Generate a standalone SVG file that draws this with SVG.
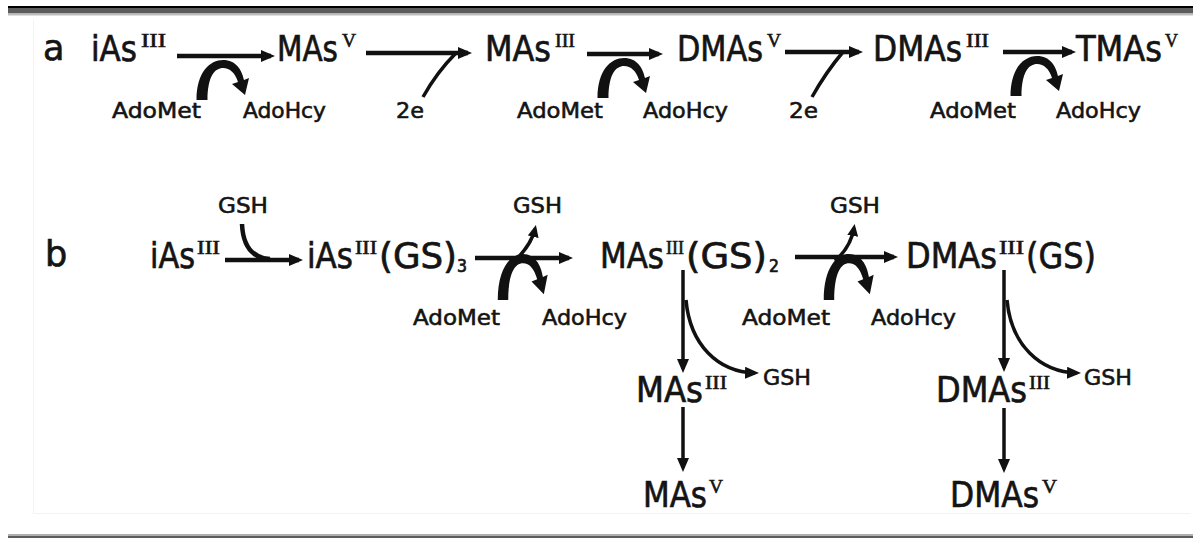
<svg xmlns="http://www.w3.org/2000/svg" xmlns:xlink="http://www.w3.org/1999/xlink" width="1193" height="538" viewBox="0 0 1193 538">
<style>
.lbl{font-family:"DejaVu Sans","Liberation Sans",sans-serif;font-size:35px;fill:#141414;stroke:#141414;stroke-width:0.7px}
.sm{font-family:"DejaVu Sans","Liberation Sans",sans-serif;font-size:22px;fill:#141414;stroke:#141414;stroke-width:0.6px}
.sup{font-family:"Liberation Serif","DejaVu Serif",serif;font-size:19px;stroke-width:0.6px}
.sub{font-size:17px}
.ln{fill:none;stroke:#111;stroke-width:4.5}
.th{fill:none;stroke:#111;stroke-width:3.5}
.cv{fill:#111}
</style>
<defs>
<marker id="ah" viewBox="0 0 14 12" refX="10" refY="6" markerWidth="14" markerHeight="12" markerUnits="userSpaceOnUse" orient="auto"><path d="M0,0 L14,6 L0,12 Z" fill="#111"/></marker>
<marker id="as" viewBox="0 0 12 11" refX="8" refY="5.5" markerWidth="12" markerHeight="11" markerUnits="userSpaceOnUse" orient="auto"><path d="M0,0 L12,5.5 L0,11 Z" fill="#111"/></marker>
<path id="meth" d="M-5.5,0 C-5.5,-28 8,-40 21,-40 C34,-40 40,-30 42,-20 L47,-22 L43,-5 L30,-16 L36,-18 C33,-27 28,-32 21,-32 C13,-32 5.5,-24 5.5,0 Z"/>
</defs>
<rect width="1193" height="538" fill="#ffffff"/>
<g id="frame">
<rect x="8" y="6" width="1185" height="2" fill="#000"/>
<rect x="8" y="8" width="1185" height="5.5" fill="#5c5c5c"/>
<rect x="8" y="13.5" width="1185" height="2" fill="#bdbdbd"/>
<rect x="8" y="534" width="1185" height="2" fill="#b0b0b0"/>
<rect x="8" y="536" width="1185" height="2" fill="#5c5c5c"/>
<path d="M33.5,20 V513.5 H1190" fill="none" stroke="#f3f3f3" stroke-width="1"/>
</g>
<g id="connectors">
<path class="ln" d="M177,56 H271" marker-end="url(#ah)"/>
<path class="ln" d="M366,53 H468" marker-end="url(#ah)"/>
<path class="ln" d="M587,54 H659" marker-end="url(#ah)"/>
<path class="ln" d="M785,52 H859" marker-end="url(#ah)"/>
<path class="ln" d="M1003,52 H1072" marker-end="url(#ah)"/>
<path class="th" d="M423,97 Q437,72 456,53"/>
<path class="th" d="M812,97 Q826,72 843,52"/>
<use xlink:href="#meth" href="#meth" class="cv" transform="translate(202,100)"/>
<use xlink:href="#meth" href="#meth" class="cv" transform="translate(603,98)"/>
<use xlink:href="#meth" href="#meth" class="cv" transform="translate(1016,96)"/>
<path class="ln" d="M225,260 H299" marker-end="url(#ah)"/>
<path class="ln" d="M242,224 C243,246 252,258 270,259"/>
<path class="ln" d="M475,258 H569" marker-end="url(#ah)"/>
<path class="ln" d="M795,257 H894" marker-end="url(#ah)"/>
<use xlink:href="#meth" href="#meth" class="cv" transform="translate(503,300) scale(0.95,1.15)"/>
<use xlink:href="#meth" href="#meth" class="cv" transform="translate(829,300) scale(0.95,1.15)"/>
<path class="th" d="M514,262 C524,252 532,242 535,229" marker-end="url(#as)"/>
<path class="th" d="M835,261 C845,252 852,240 854,228" marker-end="url(#as)"/>
<path class="th" d="M683,270 V369" marker-end="url(#ah)"/>
<path class="th" d="M683,407 V468" marker-end="url(#ah)"/>
<path class="th" d="M1004,270 V368" marker-end="url(#ah)"/>
<path class="th" d="M1004,408 V469" marker-end="url(#ah)"/>
<path class="th" d="M686,300 C690,345 718,372 755,373" marker-end="url(#ah)"/>
<path class="th" d="M1007,300 C1011,345 1040,372 1077,373" marker-end="url(#ah)"/>
</g>
<g id="panel-a-label"><text class="lbl" x="43" y="60" font-size="36">a</text></g>
<g id="a-iAsIII"><text class="lbl" y="61"><tspan x="91" textLength="46" lengthAdjust="spacingAndGlyphs">iAs</tspan><tspan class="sup" x="141" y="47" textLength="25" lengthAdjust="spacingAndGlyphs">III</tspan></text></g>
<g id="a-MAsV"><text class="lbl" y="61"><tspan x="277" textLength="61" lengthAdjust="spacingAndGlyphs">MAs</tspan><tspan class="sup" x="342" y="47" textLength="14" lengthAdjust="spacingAndGlyphs">V</tspan></text></g>
<g id="a-MAsIII"><text class="lbl" y="61"><tspan x="485" textLength="66" lengthAdjust="spacingAndGlyphs">MAs</tspan><tspan class="sup" x="555" y="47" textLength="20" lengthAdjust="spacingAndGlyphs">III</tspan></text></g>
<g id="a-DMAsV"><text class="lbl" y="61"><tspan x="677" textLength="86" lengthAdjust="spacingAndGlyphs">DMAs</tspan><tspan class="sup" x="767" y="47" textLength="14" lengthAdjust="spacingAndGlyphs">V</tspan></text></g>
<g id="a-DMAsIII"><text class="lbl" y="61"><tspan x="873" textLength="89" lengthAdjust="spacingAndGlyphs">DMAs</tspan><tspan class="sup" x="966" y="47" textLength="23" lengthAdjust="spacingAndGlyphs">III</tspan></text></g>
<g id="a-TMAsV"><text class="lbl" y="61"><tspan x="1076" textLength="86" lengthAdjust="spacingAndGlyphs">TMAs</tspan><tspan class="sup" x="1165" y="47" textLength="13" lengthAdjust="spacingAndGlyphs">V</tspan></text></g>
<g id="a-AdoMet1"><text class="sm" x="112" y="118" textLength="89" lengthAdjust="spacingAndGlyphs">AdoMet</text></g>
<g id="a-AdoHcy1"><text class="sm" x="243" y="118" textLength="83" lengthAdjust="spacingAndGlyphs">AdoHcy</text></g>
<g id="a-2e1"><text class="sm" x="396" y="118" textLength="28" lengthAdjust="spacingAndGlyphs">2e</text></g>
<g id="a-AdoMet2"><text class="sm" x="517" y="118" textLength="86" lengthAdjust="spacingAndGlyphs">AdoMet</text></g>
<g id="a-AdoHcy2"><text class="sm" x="643" y="118" textLength="85" lengthAdjust="spacingAndGlyphs">AdoHcy</text></g>
<g id="a-2e2"><text class="sm" x="789" y="118" textLength="29" lengthAdjust="spacingAndGlyphs">2e</text></g>
<g id="a-AdoMet3"><text class="sm" x="930" y="118" textLength="86" lengthAdjust="spacingAndGlyphs">AdoMet</text></g>
<g id="a-AdoHcy3"><text class="sm" x="1056" y="118" textLength="85" lengthAdjust="spacingAndGlyphs">AdoHcy</text></g>
<g id="panel-b-label"><text class="lbl" x="45" y="266" font-size="40">b</text></g>
<g id="b-iAsIII"><text class="lbl" y="268"><tspan x="150" textLength="45" lengthAdjust="spacingAndGlyphs">iAs</tspan><tspan class="sup" x="197" y="254" textLength="23" lengthAdjust="spacingAndGlyphs">III</tspan></text></g>
<g id="b-GSH1"><text class="sm" x="218" y="213" textLength="50" lengthAdjust="spacingAndGlyphs">GSH</text></g>
<g id="b-iAsIIIGS3"><text class="lbl" y="268"><tspan x="307" textLength="46" lengthAdjust="spacingAndGlyphs">iAs</tspan><tspan class="sup" x="355" y="254" textLength="22" lengthAdjust="spacingAndGlyphs">III</tspan><tspan x="379" y="268" textLength="78" lengthAdjust="spacingAndGlyphs">(GS)</tspan><tspan class="sub" x="457" y="272" textLength="10" lengthAdjust="spacingAndGlyphs">3</tspan></text></g>
<g id="b-GSH2"><text class="sm" x="513" y="213" textLength="49" lengthAdjust="spacingAndGlyphs">GSH</text></g>
<g id="b-AdoMet1"><text class="sm" x="413" y="325" textLength="87" lengthAdjust="spacingAndGlyphs">AdoMet</text></g>
<g id="b-AdoHcy1"><text class="sm" x="542" y="325" textLength="85" lengthAdjust="spacingAndGlyphs">AdoHcy</text></g>
<g id="b-MAsIIIGS2"><text class="lbl" y="268"><tspan x="600" textLength="64" lengthAdjust="spacingAndGlyphs">MAs</tspan><tspan class="sup" x="666" y="254" textLength="18" lengthAdjust="spacingAndGlyphs">III</tspan><tspan x="686" y="268" textLength="81" lengthAdjust="spacingAndGlyphs">(GS)</tspan><tspan class="sub" x="769" y="272" textLength="10" lengthAdjust="spacingAndGlyphs">2</tspan></text></g>
<g id="b-GSH3"><text class="sm" x="830" y="213" textLength="50" lengthAdjust="spacingAndGlyphs">GSH</text></g>
<g id="b-AdoMet2"><text class="sm" x="742" y="325" textLength="88" lengthAdjust="spacingAndGlyphs">AdoMet</text></g>
<g id="b-AdoHcy2"><text class="sm" x="871" y="325" textLength="85" lengthAdjust="spacingAndGlyphs">AdoHcy</text></g>
<g id="b-DMAsIIIGS"><text class="lbl" y="268"><tspan x="906" textLength="91" lengthAdjust="spacingAndGlyphs">DMAs</tspan><tspan class="sup" x="999" y="254" textLength="25" lengthAdjust="spacingAndGlyphs">III</tspan><tspan x="1026" y="268" textLength="70" lengthAdjust="spacingAndGlyphs">(GS)</tspan></text></g>
<g id="b-MAsIII"><text class="lbl" y="402"><tspan x="636" textLength="67" lengthAdjust="spacingAndGlyphs">MAs</tspan><tspan class="sup" x="705" y="389" textLength="22" lengthAdjust="spacingAndGlyphs">III</tspan></text></g>
<g id="b-GSH4"><text class="sm" x="763" y="385" textLength="48" lengthAdjust="spacingAndGlyphs">GSH</text></g>
<g id="b-MAsV"><text class="lbl" y="507"><tspan x="643" textLength="64" lengthAdjust="spacingAndGlyphs">MAs</tspan><tspan class="sup" x="709" y="493" textLength="14" lengthAdjust="spacingAndGlyphs">V</tspan></text></g>
<g id="b-DMAsIII"><text class="lbl" y="402"><tspan x="936" textLength="91" lengthAdjust="spacingAndGlyphs">DMAs</tspan><tspan class="sup" x="1029" y="389" textLength="21" lengthAdjust="spacingAndGlyphs">III</tspan></text></g>
<g id="b-GSH5"><text class="sm" x="1084" y="385" textLength="48" lengthAdjust="spacingAndGlyphs">GSH</text></g>
<g id="b-DMAsV"><text class="lbl" y="507"><tspan x="950" textLength="89" lengthAdjust="spacingAndGlyphs">DMAs</tspan><tspan class="sup" x="1042" y="493" textLength="15" lengthAdjust="spacingAndGlyphs">V</tspan></text></g>
</svg>
